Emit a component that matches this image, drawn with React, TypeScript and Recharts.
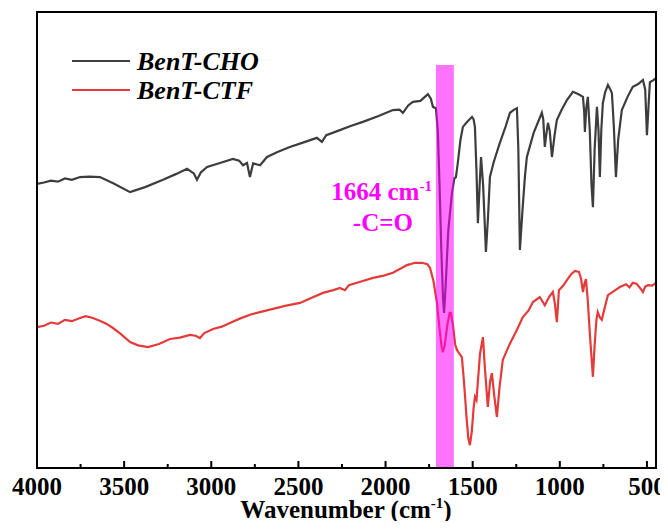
import React from 'react';
import { LineChart, Line, XAxis, YAxis, ReferenceArea, Legend, Label } from 'recharts';

// BenT-CHO spectrum: [wavenumber, transmittance]
const choPoints: [number, number][] = [
  [4000, 62.3], [3960, 62.6], [3920, 63.0], [3880, 62.8], [3840, 63.5], [3800, 63.2],
  [3753, 63.8], [3700, 63.9], [3639, 63.8], [3560, 62.4], [3466, 60.5], [3380, 61.6],
  [3277, 63.2], [3200, 64.5], [3139, 65.6], [3100, 64.6], [3082, 63.2], [3060, 64.8],
  [3024, 66.0], [2950, 66.9], [2876, 67.8], [2840, 67.4], [2818, 66.4], [2795, 66.9],
  [2778, 63.8], [2760, 66.8], [2720, 66.4], [2680, 68.2], [2620, 69.3], [2549, 70.4],
  [2470, 71.4], [2394, 72.4], [2365, 71.5], [2340, 73.0], [2262, 74.1], [2200, 75.0],
  [2130, 75.9], [2040, 77.2], [1958, 78.5], [1920, 78.6], [1900, 77.9], [1870, 79.5],
  [1843, 80.3], [1800, 80.5], [1757, 82.0], [1740, 81.0], [1728, 79.2], [1711, 78.9],
  [1700, 74.0], [1690, 62.0], [1680, 48.0], [1670, 37.0], [1664, 34.0], [1655, 40.0],
  [1640, 52.0], [1619, 60.3], [1605, 63.5], [1596, 63.8], [1585, 67.0], [1570, 72.0],
  [1556, 74.8], [1530, 76.0], [1504, 77.0], [1495, 76.5], [1487, 74.8], [1478, 65.0],
  [1470, 53.7], [1460, 62.0], [1452, 68.2], [1440, 62.0], [1424, 47.4], [1412, 55.0],
  [1401, 63.8], [1380, 67.0], [1344, 71.3], [1310, 75.0], [1286, 77.9], [1262, 78.6],
  [1246, 78.9], [1238, 70.0], [1229, 47.8], [1215, 56.0], [1200, 64.0], [1189, 68.2],
  [1150, 73.5], [1103, 77.9], [1095, 76.5], [1086, 70.4], [1078, 73.0], [1068, 75.7],
  [1058, 74.0], [1045, 68.2], [1030, 73.0], [1017, 76.3], [990, 78.5], [959, 80.7],
  [925, 82.5], [895, 82.0], [867, 81.4], [860, 78.0], [856, 73.7], [848, 79.0],
  [839, 81.4], [828, 74.0], [818, 62.0], [810, 57.2], [800, 70.0], [787, 79.2],
  [778, 74.0], [770, 63.8], [762, 74.0], [753, 80.0], [740, 82.4], [724, 84.0],
  [710, 83.0], [701, 82.2], [690, 75.0], [678, 63.8], [665, 72.0], [644, 78.5],
  [610, 81.5], [581, 83.6], [550, 84.2], [523, 85.1], [510, 83.0], [500, 73.0],
  [490, 80.0], [483, 84.6], [465, 85.0], [448, 85.5],
];

// BenT-CTF spectrum: [wavenumber, transmittance]
const ctfPoints: [number, number][] = [
  [4000, 30.9], [3960, 31.2], [3920, 31.9], [3880, 31.6], [3840, 32.5], [3800, 32.2],
  [3753, 32.9], [3720, 33.3], [3679, 32.9], [3640, 32.3], [3600, 31.6], [3564, 30.7],
  [3520, 29.4], [3466, 27.6], [3420, 26.9], [3363, 26.5], [3300, 27.2], [3237, 28.3],
  [3180, 28.6], [3122, 29.2], [3090, 29.0], [3065, 28.5], [3040, 29.6], [2990, 30.5],
  [2940, 31.0], [2893, 31.8], [2840, 32.7], [2778, 33.6], [2710, 34.3], [2646, 34.9],
  [2570, 35.6], [2491, 36.2], [2420, 37.4], [2359, 38.4], [2300, 39.0], [2262, 39.5],
  [2233, 39.0], [2210, 40.1], [2140, 40.9], [2072, 41.7], [2010, 42.2], [1958, 42.8],
  [1910, 43.8], [1877, 44.5], [1830, 45.0], [1791, 45.0], [1760, 44.7], [1745, 43.9],
  [1725, 41.0], [1705, 36.2], [1690, 30.5], [1678, 26.5], [1671, 25.4], [1660, 27.0],
  [1645, 31.5], [1632, 34.0], [1625, 34.0], [1612, 31.0], [1600, 27.0], [1590, 25.9],
  [1575, 25.0], [1562, 24.3], [1550, 19.0], [1535, 11.0], [1525, 6.5], [1516, 5.0],
  [1505, 8.0], [1495, 13.0], [1487, 15.6], [1478, 14.9], [1470, 19.0], [1458, 25.0],
  [1441, 28.7], [1430, 22.0], [1413, 13.4], [1400, 19.0], [1390, 20.8], [1375, 15.5],
  [1361, 11.2], [1345, 18.0], [1327, 23.7], [1290, 27.0], [1246, 30.3], [1212, 33.1],
  [1180, 34.5], [1154, 36.4], [1115, 37.5], [1086, 35.7], [1060, 37.6], [1040, 38.6],
  [1028, 36.0], [1017, 32.0], [1010, 36.0], [1005, 39.0], [980, 40.0], [959, 41.2],
  [935, 42.5], [913, 43.2], [890, 43.0], [878, 41.5], [867, 38.6], [858, 40.5],
  [850, 41.4], [840, 37.0], [825, 28.0], [810, 20.0], [800, 27.0], [790, 32.5],
  [782, 34.2], [770, 33.0], [759, 32.5], [740, 35.5], [724, 37.9], [690, 38.8],
  [655, 39.7], [620, 40.3], [600, 39.6], [581, 40.6], [560, 40.4], [540, 39.5],
  [523, 38.6], [510, 39.8], [494, 40.1], [470, 40.0], [448, 40.6],
];

const xTicks = [500, 750, 1000, 1250, 1500, 1750, 2000, 2250, 2500, 2750, 3000, 3250, 3500, 3750, 4000];

const choData = choPoints.map(([wn, t]) => ({ wn, t }));
const ctfData = ctfPoints.map(([wn, t]) => ({ wn, t }));

const FONT = '"Liberation Serif", "Times New Roman", serif';
const CHO_COLOR = '#3d3d3d';
const CTF_COLOR = '#e53a3a';
const MAGENTA = '#ff00ff';

const TICK_SIZE = 6;
const TICK_MARGIN = 2;

// inward ticks, labels only on the 500 steps
const WaveTick = (props: any) => {
  const { x, y, payload } = props;
  const axisY = y - TICK_SIZE - TICK_MARGIN;
  const major = payload.value % 500 === 0;
  return (
    <g>
      <path d={`M${x},${axisY}V${axisY - (major ? 7 : 4)}`} stroke="#000" strokeWidth={2} fill="none" />
      {major && (
        <text x={x} y={axisY + 27} textAnchor="middle" fontFamily={FONT} fontWeight="bold" fontSize={25} fill="#000">
          {payload.value}
        </text>
      )}
    </g>
  );
};

const AxisTitle = () => (
  <text x={338} y={510} textAnchor="middle" fontFamily={FONT} fontWeight="bold" fontSize={25} fill="#000">
    Wavenumber (cm
    <tspan dy={-10} fontSize={15}>-1</tspan>
    <tspan dy={10}>)</tspan>
  </text>
);

const PeakNote = (props: any) => {
  const { viewBox } = props;
  const x = viewBox.x;
  const y = viewBox.y;
  return (
    <g fontFamily={FONT} fontWeight="bold" fill={MAGENTA}>
      <text x={x - 4} y={y + 135} textAnchor="end" fontSize={25}>
        1664 cm
        <tspan dy={-9} fontSize={15}>-1</tspan>
      </text>
      <text x={x - 53} y={y + 166} textAnchor="middle" fontSize={25}>
        -C=O
      </text>
    </g>
  );
};

const SeriesLegend = () => (
  <svg width={230} height={70}>
    <line x1={8} x2={66} y1={23} y2={23} stroke={CHO_COLOR} strokeWidth={2} />
    <text x={73} y={32} fontFamily={FONT} fontWeight="bold" fontStyle="italic" fontSize={26} fill="#000">
      BenT-CHO
    </text>
    <line x1={8} x2={66} y1={52} y2={52} stroke={CTF_COLOR} strokeWidth={2} />
    <text x={73} y={61} fontFamily={FONT} fontWeight="bold" fontStyle="italic" fontSize={26} fill="#000">
      BenT-CTF
    </text>
  </svg>
);

export default function App() {
  return (
    <div style={{ height: 513 }}>
      <LineChart width={660} height={521} margin={{ top: 4, right: 12, left: 29, bottom: 0 }}>
        <XAxis
          type="number"
          dataKey="wn"
          domain={[448, 4000]}
          reversed
          allowDataOverflow
          ticks={xTicks}
          interval={0}
          tick={<WaveTick />}
          tickLine={false}
          axisLine={false}
          tickSize={TICK_SIZE}
          tickMargin={TICK_MARGIN}
          height={61}
        >
          <Label content={<AxisTitle />} />
        </XAxis>
        <YAxis type="number" domain={[0, 100]} hide />
        <Legend
          layout="horizontal"
          verticalAlign="middle"
          align="center"
          content={<SeriesLegend />}
          wrapperStyle={{ position: 'absolute', top: 30, left: 56, width: 230, height: 70 }}
        />
        <Line data={choData} dataKey="t" name="BenT-CHO" type="linear" stroke={CHO_COLOR} strokeWidth={2.2} dot={false} isAnimationActive={false} />
        <Line data={ctfData} dataKey="t" name="BenT-CTF" type="linear" stroke={CTF_COLOR} strokeWidth={2.2} dot={false} isAnimationActive={false} />
        <ReferenceArea x1={1711} x2={1608} y1={0} y2={88.4} fill={MAGENTA} fillOpacity={0.55} stroke="none" zIndex={450}>
          <Label content={<PeakNote />} />
        </ReferenceArea>
        <ReferenceArea x1={4000} x2={448} y1={0} y2={100} fill="none" stroke="#000" strokeWidth={2} zIndex={460} />
      </LineChart>
    </div>
  );
}
